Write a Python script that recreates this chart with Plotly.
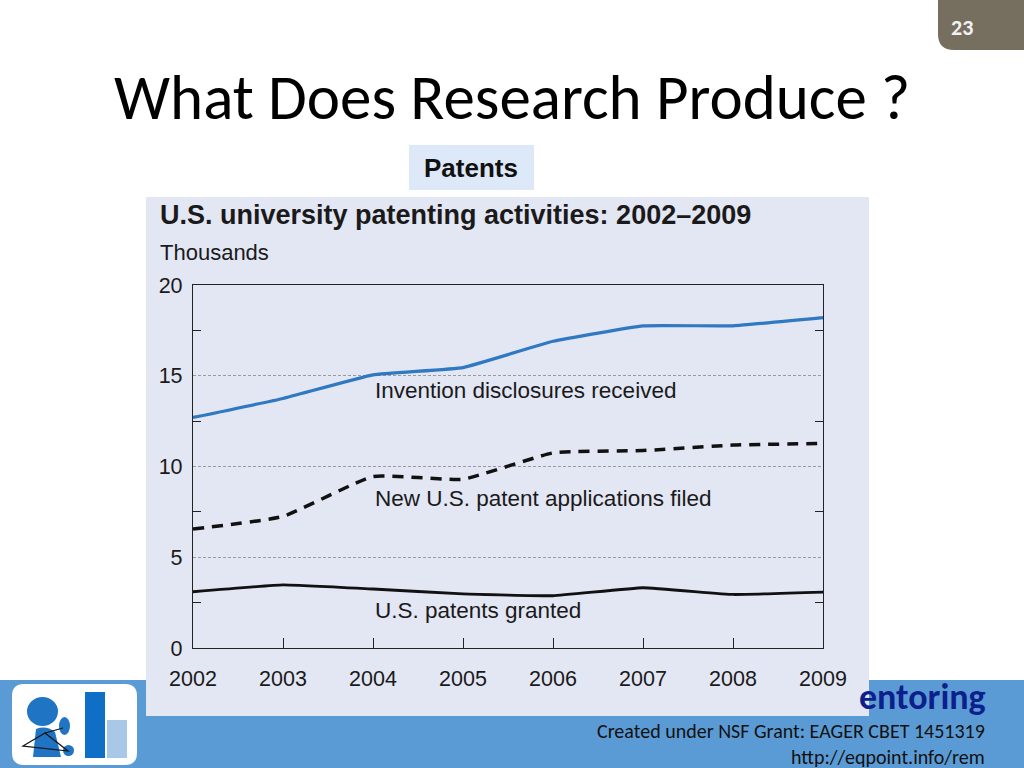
import plotly.graph_objects as go

W, H = 1024, 768

years = [2002, 2003, 2004, 2005, 2006, 2007, 2008, 2009]
disclosures = [12.7, 13.75, 15.05, 15.45, 16.9, 17.75, 17.75, 18.2]
applications = [6.55, 7.25, 9.45, 9.3, 10.75, 10.88, 11.18, 11.27]
granted = [3.1, 3.48, 3.25, 2.98, 2.88, 3.32, 2.95, 3.08]
y_ticks = [0, 5, 10, 15, 20]
series_labels = ["Invention disclosures received", "New U.S. patent applications filed", "U.S. patents granted"]
label_pos = [14.2, 8.25, 2.05]


def px(x):
    return x / W


def py(y):
    return 1 - y / H


def rrect(x0, y0, x1, y1, r, corners="tl,tr,br,bl"):
    c = corners.split(",")
    p = []
    if "tl" in c:
        p.append(f"M{px(x0)},{py(y0 + r)} Q{px(x0)},{py(y0)} {px(x0 + r)},{py(y0)}")
    else:
        p.append(f"M{px(x0)},{py(y0)}")
    if "tr" in c:
        p.append(f"L{px(x1 - r)},{py(y0)} Q{px(x1)},{py(y0)} {px(x1)},{py(y0 + r)}")
    else:
        p.append(f"L{px(x1)},{py(y0)}")
    if "br" in c:
        p.append(f"L{px(x1)},{py(y1 - r)} Q{px(x1)},{py(y1)} {px(x1 - r)},{py(y1)}")
    else:
        p.append(f"L{px(x1)},{py(y1)}")
    if "bl" in c:
        p.append(f"L{px(x0 + r)},{py(y1)} Q{px(x0)},{py(y1)} {px(x0)},{py(y1 - r)}")
    else:
        p.append(f"L{px(x0)},{py(y1)}")
    p.append("Z")
    return " ".join(p)


ARIAL = "Liberation Sans, Arial, Helvetica, sans-serif"
CAL = "Carlito, Calibri, Lato, Open Sans, sans-serif"

fig = go.Figure()

fig.add_trace(go.Scatter(x=years, y=disclosures, mode="lines",
                         line=dict(color="#2f78c2", width=3.2, shape="spline", smoothing=0.3),
                         hoverinfo="skip", showlegend=False))
fig.add_trace(go.Scatter(x=years, y=applications, mode="lines",
                         line=dict(color="#111111", width=3.5, dash="11px,8px", shape="spline", smoothing=0.4),
                         hoverinfo="skip", showlegend=False))
fig.add_trace(go.Scatter(x=years, y=granted, mode="lines",
                         line=dict(color="#111111", width=2.8, shape="spline", smoothing=0.3),
                         hoverinfo="skip", showlegend=False))

shapes = []
shapes.append(dict(type="rect", xref="paper", yref="paper", x0=0, x1=1, y0=0, y1=py(680),
                   fillcolor="#5b9bd5", line=dict(width=0), layer="below"))
shapes.append(dict(type="rect", xref="paper", yref="paper", x0=px(146), x1=px(869), y0=py(716), y1=py(197),
                   fillcolor="#e3e6f3", line=dict(width=0), layer="below"))
shapes.append(dict(type="rect", xref="paper", yref="paper", x0=px(409), x1=px(534), y0=py(190), y1=py(145),
                   fillcolor="#dde8f8", line=dict(width=0), layer="below"))
shapes.append(dict(type="path", xref="paper", yref="paper", path=rrect(938, 0, 1024, 50, 16, "bl"),
                   fillcolor="#766f5f", line=dict(width=0), layer="below"))
# logo
shapes.append(dict(type="path", xref="paper", yref="paper", path=rrect(12, 684, 137, 765, 12),
                   fillcolor="#ffffff", line=dict(width=0), layer="above"))
shapes.append(dict(type="circle", xref="paper", yref="paper", x0=px(27), x1=px(58), y0=py(726), y1=py(697),
                   fillcolor="#1f74c4", line=dict(width=0), layer="above"))
shapes.append(dict(type="path", xref="paper", yref="paper",
                   path=f"M{px(36)},{py(729)} Q{px(46)},{py(725)} {px(55)},{py(732)} L{px(61)},{py(757)} L{px(33)},{py(757)} Z",
                   fillcolor="#1f74c4", line=dict(width=0), layer="above"))
shapes.append(dict(type="circle", xref="paper", yref="paper", x0=px(59), x1=px(70), y0=py(735), y1=py(717),
                   fillcolor="#1f74c4", line=dict(width=0), layer="above"))
shapes.append(dict(type="circle", xref="paper", yref="paper", x0=px(63), x1=px(74), y0=py(756), y1=py(745),
                   fillcolor="#1f74c4", line=dict(width=0), layer="above"))
shapes.append(dict(type="path", xref="paper", yref="paper",
                   path=f"M{px(23)},{py(746)} L{px(45)},{py(733)} L{px(68)},{py(751)} Z M{px(45)},{py(733)} L{px(63)},{py(728)}",
                   fillcolor="rgba(0,0,0,0)", line=dict(width=1.2, color="#111111"), layer="above"))
shapes.append(dict(type="rect", xref="paper", yref="paper", x0=px(85), x1=px(105), y0=py(758), y1=py(692),
                   fillcolor="#0f6fc6", line=dict(width=0), layer="above"))
shapes.append(dict(type="rect", xref="paper", yref="paper", x0=px(107), x1=px(127), y0=py(758), y1=py(720),
                   fillcolor="#a9c8e8", line=dict(width=0), layer="above"))

annotations = []
annotations.append(dict(text="What Does Research Produce ?", x=px(512), y=py(97), xref="paper", yref="paper",
                        showarrow=False, xanchor="center", yanchor="middle",
                        font=dict(family=CAL, size=63, color="#000000")))
annotations.append(dict(text="23", x=px(962), y=py(27), xref="paper", yref="paper", showarrow=False,
                        xanchor="center", yanchor="middle",
                        font=dict(family=CAL, size=22, color="#f2f2f2", weight="bold")))
annotations.append(dict(text="<b>Patents</b>", x=px(471), y=py(168), xref="paper", yref="paper", showarrow=False,
                        xanchor="center", yanchor="middle",
                        font=dict(family=ARIAL, size=26, color="#111111")))
annotations.append(dict(text="<b>U.S. university patenting activities: 2002–2009</b>", x=px(158), y=py(215),
                        xref="paper", yref="paper", showarrow=False, xanchor="left", yanchor="middle",
                        font=dict(family=ARIAL, size=27, color="#1a1a1a")))
annotations.append(dict(text="Thousands", x=px(158), y=py(253), xref="paper", yref="paper", showarrow=False,
                        xanchor="left", yanchor="middle",
                        font=dict(family=ARIAL, size=22, color="#1a1a1a")))
for txt, yv in zip(series_labels, label_pos):
    annotations.append(dict(text=txt, x=2004, y=yv, xref="x", yref="y", showarrow=False,
                            xanchor="left", yanchor="middle",
                            font=dict(family=ARIAL, size=22.5, color="#1a1a1a")))
annotations.append(dict(text="<b>entoring</b>", x=px(988), y=py(697), xref="paper", yref="paper", showarrow=False,
                        xanchor="right", yanchor="middle",
                        font=dict(family=CAL, size=36, color="#0d1f8c")))
annotations.append(dict(text="Created under NSF Grant: EAGER CBET 1451319", x=px(987), y=py(731), xref="paper",
                        yref="paper", showarrow=False, xanchor="right", yanchor="middle",
                        font=dict(family=CAL, size=20, color="#111111")))
annotations.append(dict(text="http://eqpoint.info/rem", x=px(987), y=py(757), xref="paper",
                        yref="paper", showarrow=False, xanchor="right", yanchor="middle",
                        font=dict(family=CAL, size=20, color="#111111")))

fig.update_layout(
    width=W, height=H,
    margin=dict(l=0, r=0, t=0, b=0, pad=0, autoexpand=False),
    paper_bgcolor="#ffffff",
    plot_bgcolor="#ffffff",
    showlegend=False,
    shapes=shapes,
    annotations=annotations,
    xaxis=dict(domain=[px(193), px(823)], range=[2002, 2009], tickvals=years, automargin=False,
               ticks="inside", ticklen=10, tickwidth=1.2, tickcolor="#222",
               showline=True, linecolor="#222", linewidth=1.3, mirror=True,
               showgrid=False, zeroline=False, ticklabelstandoff=11,
               tickfont=dict(family=ARIAL, size=21.5, color="#1a1a1a")),
    yaxis=dict(domain=[py(648), py(285)], range=[0, 20], tickvals=y_ticks, automargin=False,
               ticks="", showline=True, linecolor="#222", linewidth=1.3, mirror="allticks",
               showgrid=True, gridcolor="#9a9a9a", gridwidth=1, griddash="3px,2px",
               zeroline=False, ticklabelstandoff=5,
               minor=dict(tickvals=[2.5, 7.5, 12.5, 17.5], ticks="inside", ticklen=8, tickwidth=1.2,
                          tickcolor="#222", showgrid=False),
               tickfont=dict(family=ARIAL, size=21.5, color="#1a1a1a")),
)

fig.write_html("out.html", config={"displayModeBar": False},
               post_script="document.body.style.margin='0';document.body.style.overflow='hidden';")
